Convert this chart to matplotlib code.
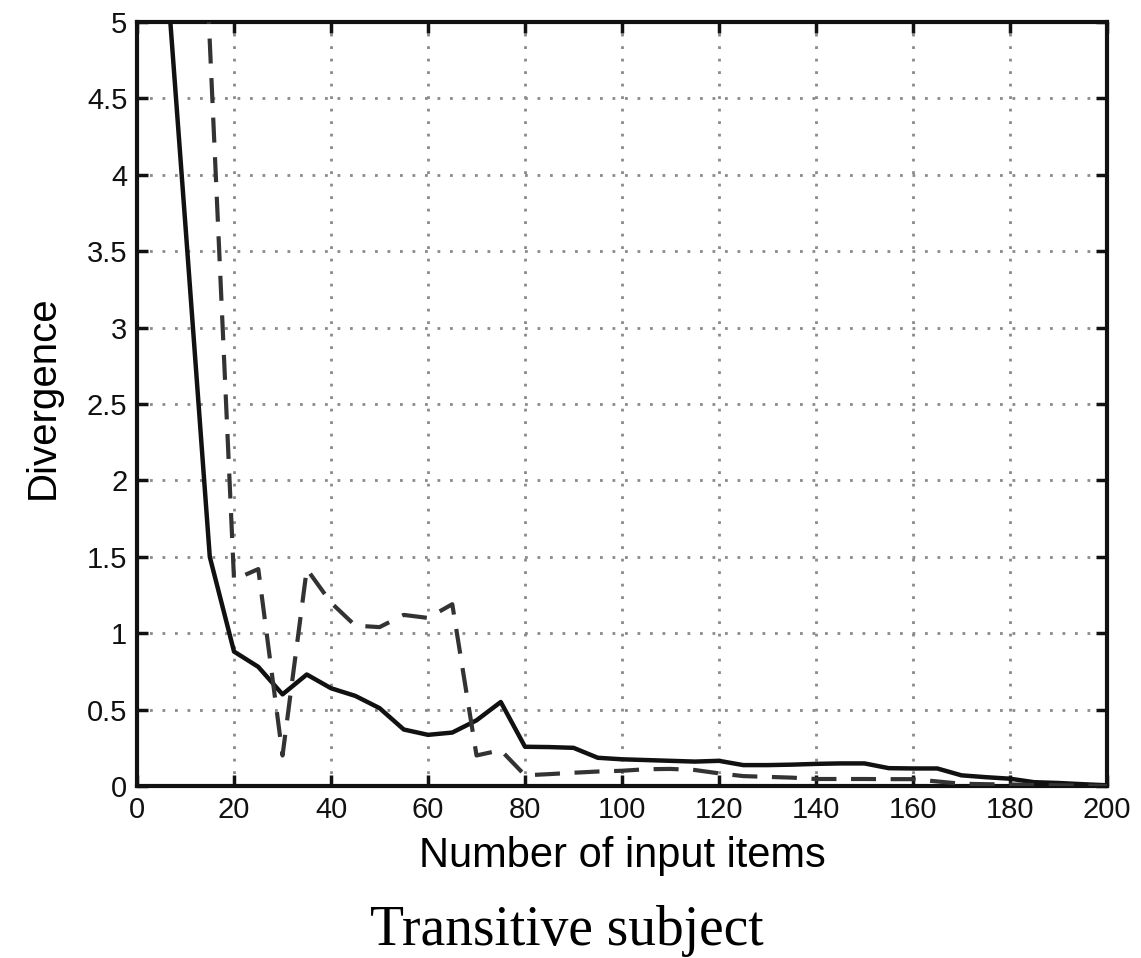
import matplotlib
matplotlib.use("Agg")
import matplotlib.pyplot as plt

# valeurs (pas de 5)
x_solide = [5, 10, 15, 20, 25, 30, 35, 40, 45, 50, 55, 60, 65, 70, 75, 80,
            85, 90, 95, 100, 105, 110, 115, 120, 125, 130, 135, 140, 145, 150,
            155, 160, 165, 170, 175, 180, 185, 190, 195, 200]
y_solide = [5.8, 3.66, 1.5, 0.88, 0.78, 0.6, 0.73, 0.64, 0.59, 0.51, 0.37,
            0.335, 0.35, 0.43, 0.55, 0.257, 0.255, 0.25, 0.185, 0.175, 0.17,
            0.165, 0.16, 0.165, 0.137, 0.137, 0.14, 0.145, 0.148, 0.148,
            0.117, 0.115, 0.115, 0.07, 0.058, 0.048, 0.025, 0.02, 0.012, 0.005]

x_tirets = [10, 15, 20, 25, 30, 35, 40, 45, 50, 55, 60, 65, 70, 75, 80, 85,
            90, 95, 100, 105, 110, 115, 120, 125, 130, 135, 140, 145, 150,
            155, 160, 165, 170, 175, 180, 185, 190, 195, 200]
y_tirets = [8.4, 4.87, 1.35, 1.42, 0.2, 1.42, 1.2, 1.05, 1.04, 1.12, 1.1,
            1.19, 0.2, 0.235, 0.07, 0.078, 0.087, 0.095, 0.1, 0.11, 0.112,
            0.105, 0.083, 0.065, 0.06, 0.055, 0.046, 0.046, 0.046, 0.045,
            0.045, 0.03, 0.015, 0.012, 0.01, 0.008, 0.005, 0.003, 0.0]

xticks = list(range(0, 201, 20))
yticks = [0, 0.5, 1, 1.5, 2, 2.5, 3, 3.5, 4, 4.5, 5]
ytick_labels = ["0", "0.5", "1", "1.5", "2", "2.5", "3", "3.5", "4", "4.5", "5"]

plt.rcParams["font.family"] = ["Liberation Sans", "DejaVu Sans"]

fig = plt.figure(figsize=(11.41, 9.58), dpi=100)
ax = fig.add_axes([0.1201, 0.1795, 0.8501, 0.7975])

ax.plot(x_solide, y_solide, color="#111111", linewidth=3.2, zorder=3)
ax.plot(x_tirets, y_tirets, color="#333333", linewidth=3.0,
        linestyle=(0, (6, 3.5)), zorder=3)

ax.set_xlim(0, 200)
ax.set_ylim(0, 5)
ax.set_xticks(xticks)
ax.set_yticks(yticks)
ax.set_yticklabels(ytick_labels)

ax.grid(True, color="#8a8a8a", linestyle=(0, (1, 3.5)), linewidth=2.0)
ax.tick_params(direction="in", length=8, width=2.5, top=True, right=True,
               labelsize=21, pad=7, colors="#111111")
for sp in ax.spines.values():
    sp.set_linewidth(3)
    sp.set_color("#111111")

ax.set_xlabel("Number of input items", fontsize=30, labelpad=9)
ax.set_ylabel("Divergence", fontsize=29)
ax.yaxis.set_label_coords(-0.078, 0.509)

fig.text(0.497, 0.014, "Transitive subject", fontsize=40,
         family=["Liberation Serif", "DejaVu Serif"], ha="center", va="baseline")

fig.savefig("out.png", dpi=100)
